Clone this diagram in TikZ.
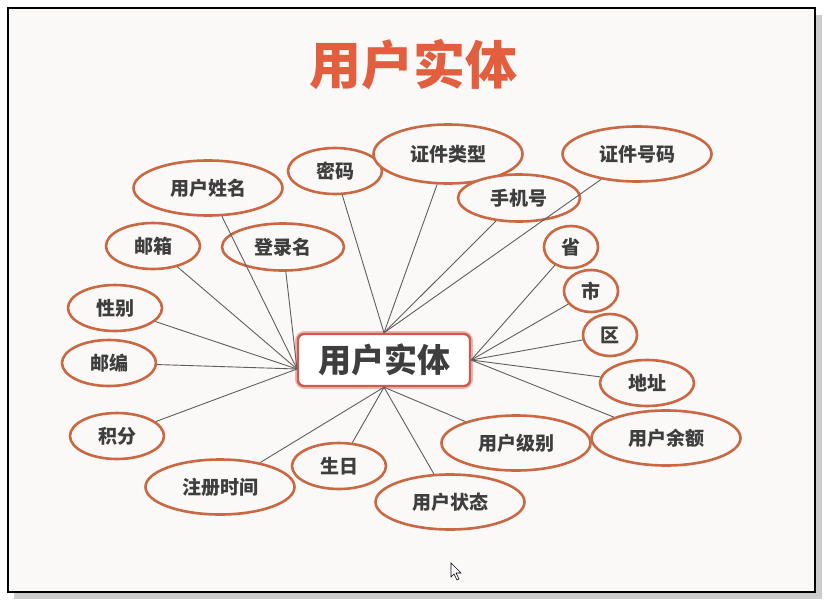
\documentclass[tikz,border=0pt]{standalone}
\usepackage{fontspec}
\setmainfont{Noto Sans CJK SC}
\usepackage{xcolor}
\usepackage{tikz}
\usetikzlibrary{shapes.geometric}

\definecolor{titlered}{RGB}{226,94,62}
\definecolor{ringbrown}{RGB}{201,104,66}
\definecolor{boxred}{RGB}{205,92,80}
\definecolor{txtgray}{RGB}{62,62,62}
\definecolor{paper}{RGB}{250,249,247}
\definecolor{linegray}{RGB}{95,95,95}

\tikzset{
	attr/.style={draw=ringbrown, line width=2.6pt, ellipse, fill=paper, inner sep=0pt, text=txtgray, font=\fontsize{19}{19}\selectfont\bfseries},
	wide/.style={attr, minimum width=149pt, minimum height=55pt},
	mid/.style={attr, minimum width=122pt, minimum height=47pt},
	small/.style={attr, minimum width=94pt, minimum height=46pt},
	tiny/.style={attr, minimum width=54pt, minimum height=42pt},
	link/.style={draw=linegray, line width=0.9pt},
}

\begin{document}
\begin{tikzpicture}[x=1pt, y=-1pt]
			\useasboundingbox (0,0) rectangle (824,602);
			\fill[white] (0,0) rectangle (824,602);
			\fill[black!20] (14,15) rectangle (822,599);
			\draw[black, line width=1.4pt, fill=paper] (8,8) rectangle (815,592);

			\node[text=titlered, font=\fontsize{52}{52}\selectfont\bfseries] (title) at (413,65) {用户实体};

			\node[draw=boxred!45, line width=6pt, rounded corners=7pt, minimum width=172pt, minimum height=52pt] (glow) at (384,360) {};
			\node[draw=boxred, line width=2.4pt, rounded corners=6pt, fill=white, minimum width=172pt, minimum height=52pt, text=txtgray, font=\fontsize{33}{33}\selectfont\bfseries] (ent) at (384,360) {用户实体};
			\coordinate (eL) at (297,369);

			\node[wide] (uname) at (208,188) {用户姓名};
			\node[small] (pwd) at (335,171) {密码};
			\node[wide, minimum height=59pt] (idtype) at (448,154) {证件类型};
			\node[mid] (phone) at (519,198) {手机号};
			\node[wide] (idno) at (637,154) {证件号码};
			\node[small] (mail) at (153,246) {邮箱};
			\node[mid] (login) at (283,247) {登录名};
			\node[small] (sex) at (115,308) {性别};
			\node[small] (zip) at (109,363) {邮编};
			\node[small] (points) at (117,436) {积分};
			\node[wide] (regtime) at (220,487) {注册时间};
			\node[small] (birth) at (339,466) {生日};
			\node[wide] (status) at (450,502) {用户状态};
			\node[wide] (level) at (516,443) {用户级别};
			\node[wide] (bal) at (666,438) {用户余额};
			\node[small] (addr) at (647,383) {地址};
			\node[tiny] (prov) at (571,247) {省};
			\node[tiny] (city) at (591,291) {市};
			\node[tiny] (dist) at (610,335) {区};

			\foreach \n in {uname,mail,login,sex,zip,points}
				\draw[link] (eL) -- (\n);
			\foreach \n in {pwd,idtype,phone,idno}
				\draw[link] (ent.north) -- (\n);
			\foreach \n in {prov,city,dist,addr,bal}
				\draw[link] (ent.east) -- (\n);
			\foreach \n in {regtime,birth,status,level}
				\draw[link] (ent.south) -- (\n);

			\draw[black, line width=0.6pt, fill=white] (451,563) -- (451,577) -- (454,574) -- (457,580) -- (459,579) -- (456,573) -- (461,573) -- cycle;
		\end{tikzpicture}
\end{document}
